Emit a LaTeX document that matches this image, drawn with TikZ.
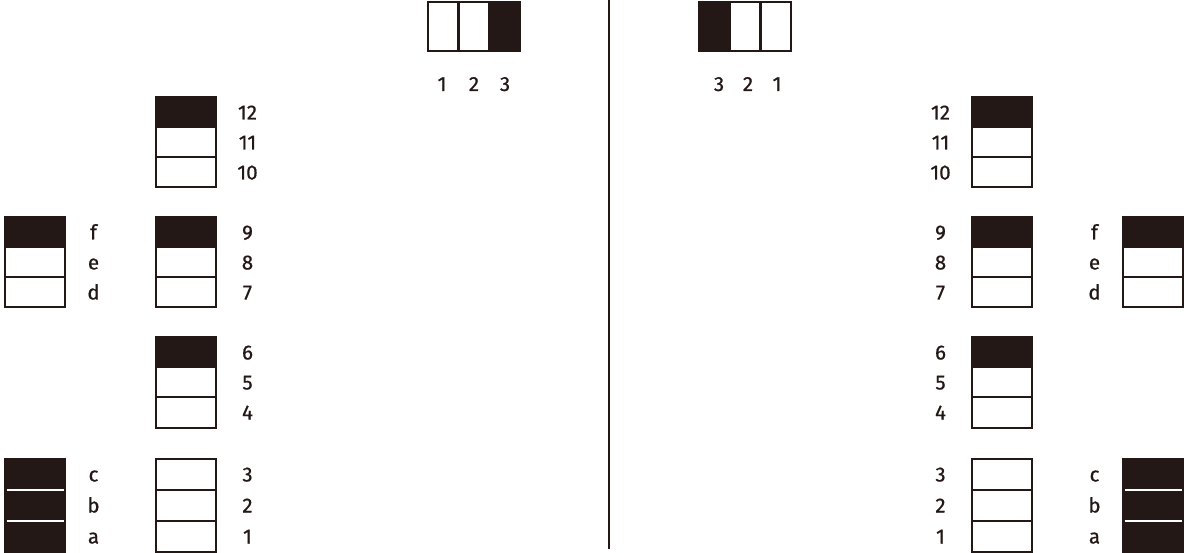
\documentclass[tikz,border=0pt]{standalone}
\usepackage{fontspec}
\setmainfont{Fira Sans}
\newfontfamily\lblfont{Fira Sans}[FakeBold=0.7]
\usepackage{xcolor}
\usetikzlibrary{positioning}
\definecolor{ink}{RGB}{35,24,21}

\begin{document}
\begin{tikzpicture}[
    x=1pt, y=-1pt,
    node distance=0pt,
    cell/.style={rectangle, draw=ink, line width=2pt, fill=white, minimum width=60pt, minimum height=30pt, inner sep=0pt, outer sep=0pt},
    tallcell/.style={cell, minimum height=31pt},
    dark/.style={fill=ink},
    topcell/.style={cell, line width=2.6pt, minimum width=30.7pt, minimum height=49pt},
    lbl/.style={font=\lblfont\fontsize{20.5}{25}\selectfont, text=ink, anchor=base, inner sep=0pt},
    sep/.style={draw=white, line width=1.2pt},
    divider/.style={draw=ink, line width=2.2pt}
]
\useasboundingbox (0,0) rectangle (1184,553);

% Top switches
\node[topcell] (TL1) at (443.3,26.5) {};
\node[topcell, right=of TL1] (TL2) {};
\node[topcell, dark, right=of TL2] (TL3) {};
\node[topcell, dark] (TR3) at (714.3,26.5) {};
\node[topcell, right=of TR3] (TR2) {};
\node[topcell, right=of TR2] (TR1) {};

\node[lbl] (tl1) at (442,91) {1};
\node[lbl] (tl2) at (474,91) {2};
\node[lbl] (tl3) at (505,91) {3};
\node[lbl] (tr3) at (719,91) {3};
\node[lbl] (tr2) at (748,91) {2};
\node[lbl] (tr1) at (777,91) {1};

% Divider
\coordinate (divtop) at (609,0);
\coordinate (divbot) at (609,549);
\draw[divider] (divtop) -- (divbot);

% Left side: numbered stacks
\node[cell, dark] (L12) at (186,112.5) {};
\node[cell, below=of L12] (L11) {};
\node[cell, below=of L11] (L10) {};
\node[cell, dark] (L9) at (186,232.5) {};
\node[cell, below=of L9] (L8) {};
\node[cell, below=of L8] (L7) {};
\node[cell, dark] (L6) at (186,352.5) {};
\node[cell, below=of L6] (L5) {};
\node[cell, below=of L5] (L4) {};
\node[tallcell] (L3) at (186,474.5) {};
\node[tallcell, below=of L3] (L2) {};
\node[tallcell, below=of L2] (L1) {};

% Left side: lettered stacks
\node[cell, dark] (Lf) at (35,232.5) {};
\node[cell, below=of Lf] (Le) {};
\node[cell, below=of Le] (Ld) {};
\node[tallcell, dark] (Lc) at (35,474.5) {};
\node[tallcell, dark, below=of Lc] (Lb) {};
\node[tallcell, dark, below=of Lb] (La) {};
\draw[sep] ([xshift=1.5pt]Lc.south west) -- ([xshift=-1.5pt]Lc.south east);
\draw[sep] ([xshift=1.5pt]Lb.south west) -- ([xshift=-1.5pt]Lb.south east);

% Right side: numbered stacks
\node[cell, dark] (R12) at (1002,112.5) {};
\node[cell, below=of R12] (R11) {};
\node[cell, below=of R11] (R10) {};
\node[cell, dark] (R9) at (1002,232.5) {};
\node[cell, below=of R9] (R8) {};
\node[cell, below=of R8] (R7) {};
\node[cell, dark] (R6) at (1002,352.5) {};
\node[cell, below=of R6] (R5) {};
\node[cell, below=of R5] (R4) {};
\node[tallcell] (R3) at (1002,474.5) {};
\node[tallcell, below=of R3] (R2) {};
\node[tallcell, below=of R2] (R1) {};

% Right side: lettered stacks
\node[cell, dark] (Rf) at (1153,232.5) {};
\node[cell, below=of Rf] (Re) {};
\node[cell, below=of Re] (Rd) {};
\node[tallcell, dark] (Rc) at (1153,474.5) {};
\node[tallcell, dark, below=of Rc] (Rb) {};
\node[tallcell, dark, below=of Rb] (Ra) {};
\draw[sep] ([xshift=1.5pt]Rc.south west) -- ([xshift=-1.5pt]Rc.south east);
\draw[sep] ([xshift=1.5pt]Rb.south west) -- ([xshift=-1.5pt]Rb.south east);

% Labels, left
\node[lbl] (nl12) at (247.5,119.5) {12};
\node[lbl] (nl11) at (247.5,149.5) {11};
\node[lbl] (nl10) at (247.5,179.5) {10};
\node[lbl] (nl9) at (247.5,239.5) {9};
\node[lbl] (nl8) at (247.5,269.5) {8};
\node[lbl] (nl7) at (247.5,299.5) {7};
\node[lbl] (nl6) at (247.5,359.5) {6};
\node[lbl] (nl5) at (247.5,389.5) {5};
\node[lbl] (nl4) at (247.5,419.5) {4};
\node[lbl] (nl3) at (247.5,481.5) {3};
\node[lbl] (nl2) at (247.5,512.5) {2};
\node[lbl] (nl1) at (247.5,543.5) {1};
\node[lbl] (ll-f) at (93.5,239.5) {f};
\node[lbl] (ll-e) at (93.5,269.5) {e};
\node[lbl] (ll-d) at (93.5,299.5) {d};
\node[lbl] (ll-c) at (93.5,481.5) {c};
\node[lbl] (ll-b) at (93.5,512.5) {b};
\node[lbl] (ll-a) at (93.5,543.5) {a};

% Labels, right
\node[lbl] (nr12) at (940.5,119.5) {12};
\node[lbl] (nr11) at (940.5,149.5) {11};
\node[lbl] (nr10) at (940.5,179.5) {10};
\node[lbl] (nr9) at (940.5,239.5) {9};
\node[lbl] (nr8) at (940.5,269.5) {8};
\node[lbl] (nr7) at (940.5,299.5) {7};
\node[lbl] (nr6) at (940.5,359.5) {6};
\node[lbl] (nr5) at (940.5,389.5) {5};
\node[lbl] (nr4) at (940.5,419.5) {4};
\node[lbl] (nr3) at (940.5,481.5) {3};
\node[lbl] (nr2) at (940.5,512.5) {2};
\node[lbl] (nr1) at (940.5,543.5) {1};
\node[lbl] (lr-f) at (1094.5,239.5) {f};
\node[lbl] (lr-e) at (1094.5,269.5) {e};
\node[lbl] (lr-d) at (1094.5,299.5) {d};
\node[lbl] (lr-c) at (1094.5,481.5) {c};
\node[lbl] (lr-b) at (1094.5,512.5) {b};
\node[lbl] (lr-a) at (1094.5,543.5) {a};

\end{tikzpicture}
\end{document}
